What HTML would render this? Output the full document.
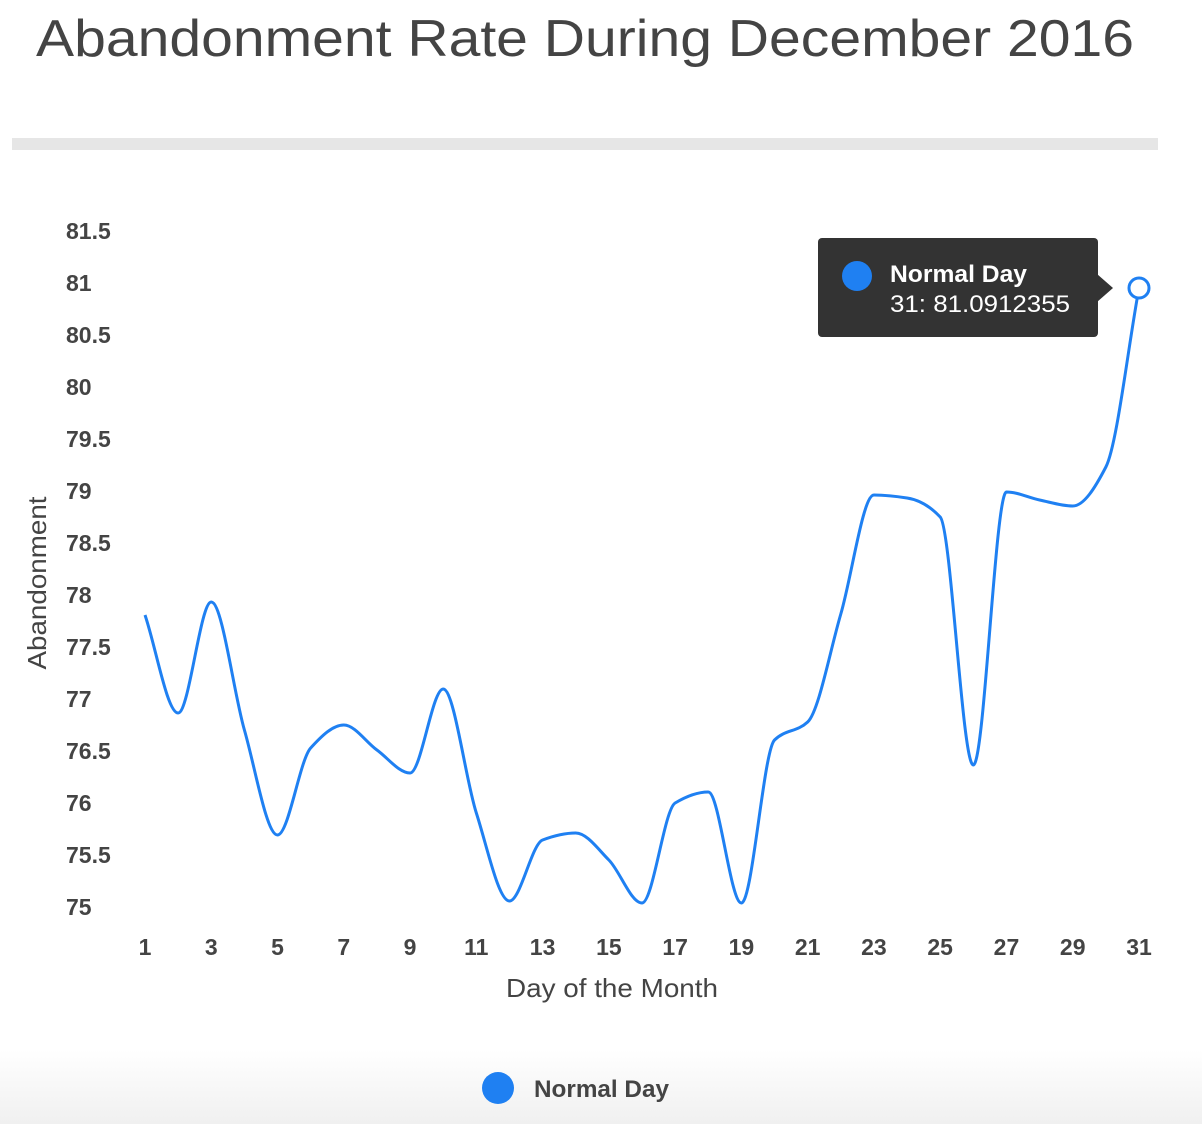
<!DOCTYPE html>
<html><head><meta charset="utf-8"><style>
html,body{margin:0;padding:0;background:#fff;}
body{width:1202px;height:1124px;overflow:hidden;position:relative;font-family:"Liberation Sans",Arial,sans-serif;}
</style></head><body>
<svg width="1202" height="1124" xmlns="http://www.w3.org/2000/svg" style="position:absolute;left:0;top:0">
<defs><linearGradient id="g" x1="0" y1="0" x2="0" y2="1"><stop offset="0" stop-color="#fff"/><stop offset="1" stop-color="#f0f0f0"/></linearGradient></defs>
<rect x="0" y="1050" width="1202" height="74" fill="url(#g)"/>
<text x="36" y="56" font-size="52" fill="#444" textLength="1098" lengthAdjust="spacingAndGlyphs" font-family="Liberation Sans, sans-serif">Abandonment Rate During December 2016</text>
<rect x="12" y="138" width="1146" height="12" fill="#e6e6e6"/>
<g font-size="23" font-weight="bold" fill="#444" font-family="Liberation Sans, sans-serif">
<text x="66" y="239">81.5</text><text x="66" y="291">81</text><text x="66" y="343">80.5</text><text x="66" y="395">80</text>
<text x="66" y="447">79.5</text><text x="66" y="499">79</text><text x="66" y="551">78.5</text><text x="66" y="603">78</text>
<text x="66" y="655">77.5</text><text x="66" y="707">77</text><text x="66" y="759">76.5</text><text x="66" y="811">76</text>
<text x="66" y="863">75.5</text><text x="66" y="915">75</text>
</g>
<g id="xt" font-size="23" font-weight="bold" fill="#444" text-anchor="middle" font-family="Liberation Sans, sans-serif"></g>
<text transform="translate(46,583) rotate(-90)" font-size="26" fill="#444" text-anchor="middle" textLength="173" lengthAdjust="spacingAndGlyphs" font-family="Liberation Sans, sans-serif">Abandonment</text>
<text x="612" y="997" font-size="26" fill="#444" text-anchor="middle" textLength="212" lengthAdjust="spacingAndGlyphs" font-family="Liberation Sans, sans-serif">Day of the Month</text>
<path id="ln" fill="none" stroke="#1f80f2" stroke-width="3"/>
<circle cx="1139" cy="288" r="10" fill="#fff" stroke="#1f80f2" stroke-width="3"/>
<rect x="818" y="238" width="280" height="99" rx="4" fill="#333"/>
<polygon points="1097,274 1113,288 1097,302" fill="#333"/>
<circle cx="857" cy="276" r="15" fill="#1f80f2"/>
<text x="890" y="282" font-size="24" font-weight="bold" fill="#fff" textLength="137" lengthAdjust="spacingAndGlyphs" font-family="Liberation Sans, sans-serif">Normal Day</text>
<text x="890" y="312" font-size="24" fill="#fff" textLength="180" lengthAdjust="spacingAndGlyphs" font-family="Liberation Sans, sans-serif">31: 81.0912355</text>
<circle cx="498" cy="1088" r="16" fill="#1f80f2"/>
<text x="534" y="1097" font-size="24" font-weight="bold" fill="#444" textLength="135" lengthAdjust="spacingAndGlyphs" font-family="Liberation Sans, sans-serif">Normal Day</text>
</svg>
<script>
var ys=[615,713,602,730,835,748,725,750,773,689,813,901,840,833,860,903,803,792,903,740,722,614,495,498,517,765,492,500,506,467,288];
var n=ys.length,xs=[];for(var i=0;i<n;i++)xs.push(145+i*994/30);
var xt=document.getElementById('xt'),h='';
for(var d=1;d<=31;d+=2)h+='<text x="'+xs[d-1]+'" y="955">'+d+'</text>';
xt.innerHTML=h;
var dx=994/30,s=[],m=[];
for(i=0;i<n-1;i++)s.push((ys[i+1]-ys[i])/dx);
m[0]=s[0];m[n-1]=s[n-2];
for(i=1;i<n-1;i++){if(s[i-1]*s[i]<=0)m[i]=0;else{m[i]=2/(1/s[i-1]+1/s[i]);}}
var p='M'+xs[0]+','+ys[0];
for(i=0;i<n-1;i++){p+=' C'+(xs[i]+dx/3)+','+(ys[i]+m[i]*dx/3)+' '+(xs[i+1]-dx/3)+','+(ys[i+1]-m[i+1]*dx/3)+' '+xs[i+1]+','+ys[i+1];}
document.getElementById('ln').setAttribute('d',p);
</script>
</body></html>
